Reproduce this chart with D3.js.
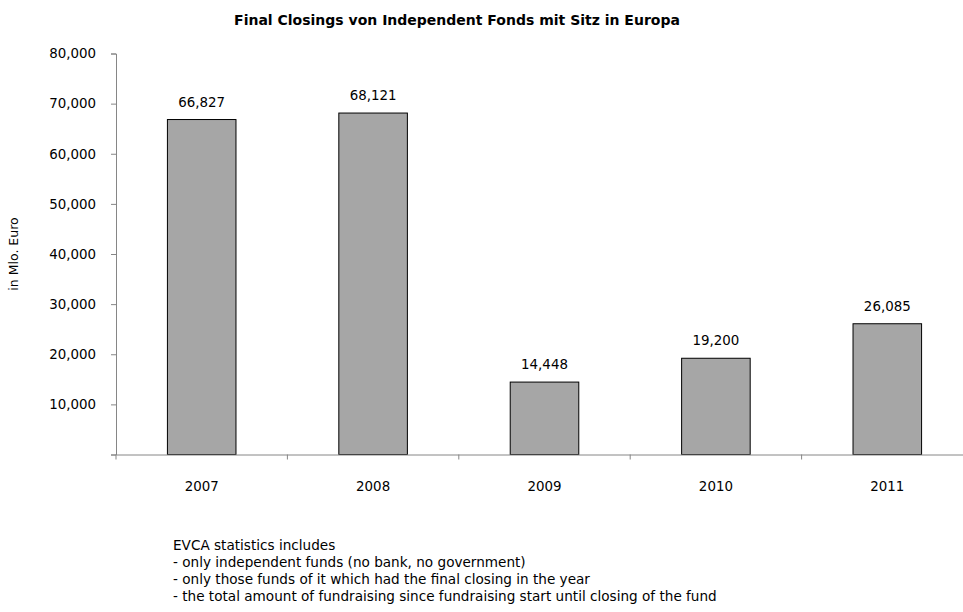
<!DOCTYPE html>
<html>
<head>
<meta charset="utf-8">
<script src="https://cdn.jsdelivr.net/npm/d3@7"></script>
<style>
  html, body { margin: 0; padding: 0; background: #fff; }
  svg { display: block; font-family: "Century Gothic", "DejaVu Sans", sans-serif; }
</style>
</head>
<body>
<svg id="chart" width="963" height="612"></svg>
<script>
'use strict';

// ── Data ────────────────────────────────────────────────────────────────
const years  = ['2007', '2008', '2009', '2010', '2011'];
const values = [66827, 68121, 14448, 19200, 26085];
const yTicks = [10000, 20000, 30000, 40000, 50000, 60000, 70000, 80000];
const notes  = [
  'EVCA statistics includes',
  '- only independent funds (no bank, no government)',
  '- only those funds of it which had the final closing in the year',
  '- the total amount of fundraising since fundraising start until closing of the fund'
];

const svg = d3.select('#chart');
const fmt = d3.format(',');

// ── Scales ──────────────────────────────────────────────────────────────
const X0 = 116, X1 = 973;
const Y0 = 454.5, Y1 = 53.5;

const x = d3.scaleBand().domain(years).range([X0, X1]).padding(0);
const y = d3.scaleLinear().domain([0, 80000]).range([Y0, Y1]);
const barW = x.bandwidth() * 0.4;

// Title
svg.append('text')
  .attr('x', 457).attr('y', 25)
  .attr('text-anchor', 'middle')
  .attr('font-size', '14px').attr('font-weight', 'bold')
  .attr('fill', '#000')
  .text('Final Closings von Independent Fonds mit Sitz in Europa');

// Y axis title
svg.append('text')
  .attr('transform', `translate(18, ${(Y0 + Y1) / 2}) rotate(-90)`)
  .attr('text-anchor', 'middle')
  .attr('font-size', '12.5px').attr('fill', '#000')
  .text('in Mlo. Euro');

// ── Bars ────────────────────────────────────────────────────────────────
const bars = svg.append('g');
years.forEach((yr, i) => {
  const cx = x(yr) + x.bandwidth() / 2;
  bars.append('rect')
    .attr('x', cx - barW / 2).attr('y', y(values[i]))
    .attr('width', barW).attr('height', Y0 - y(values[i]))
    .attr('fill', '#a6a6a6')
    .attr('stroke', '#000').attr('stroke-width', 1);
  bars.append('text')
    .attr('x', cx).attr('y', y(values[i]) - 13)
    .attr('text-anchor', 'middle')
    .attr('font-size', '13.4px').attr('fill', '#000')
    .text(fmt(values[i]));
});

// ── Axes ────────────────────────────────────────────────────────────────
const yAxis = d3.axisLeft(y).tickValues([0].concat(yTicks)).tickSize(5).tickPadding(15)
  .tickFormat(d => d === 0 ? '' : fmt(d));
svg.append('g')
  .attr('transform', `translate(${X0},0)`)
  .call(yAxis)
  .attr('font-family', null).attr('font-size', null)
  .call(ax => {
    ax.select('.domain').attr('stroke', '#868686');
    ax.selectAll('.tick line').attr('stroke', '#868686');
    ax.selectAll('text').attr('font-size', '13.4px').attr('fill', '#000');
  });

const xAxis = d3.axisBottom(x).tickSize(0).tickPadding(27);
svg.append('g')
  .attr('transform', `translate(0,${Y0})`)
  .call(xAxis)
  .attr('font-family', null).attr('font-size', null)
  .call(ax => {
    ax.select('.domain').attr('stroke', '#868686');
    ax.selectAll('text').attr('font-size', '13.4px').attr('fill', '#000');
  });

// category boundary ticks
svg.append('g').selectAll('line')
  .data(years.concat(['end']))
  .join('line')
  .attr('x1', (d, i) => i < years.length ? x(d) : X1)
  .attr('x2', (d, i) => i < years.length ? x(d) : X1)
  .attr('y1', Y0).attr('y2', Y0 + 5)
  .attr('stroke', '#868686');

// ── Footnote ────────────────────────────────────────────────────────────
svg.append('g').selectAll('text')
  .data(notes)
  .join('text')
  .attr('x', 173).attr('y', (d, i) => 550 + i * 17)
  .attr('font-size', '13.6px').attr('fill', '#000')
  .text(d => d);
</script>
</body>
</html>
